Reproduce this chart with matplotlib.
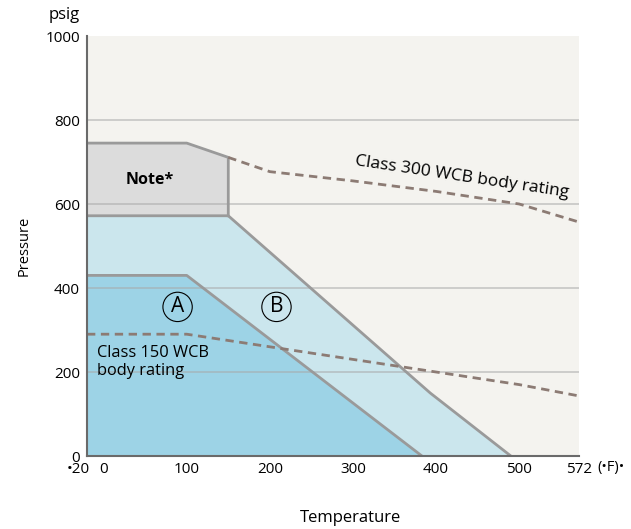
import numpy as np
import matplotlib.pyplot as plt
from matplotlib.transforms import ScaledTranslation

plt.rcParams['font.family'] = ['Open Sans', 'DejaVu Sans']

# region outlines (temperature degF, pressure psig)
a_temp = [-20, -20, 100, 383]
a_pres = [0, 430, 430, 0]
b_temp = [-20, -20, 150, 393, 490]
b_pres = [0, 572, 572, 150, 0]
note_temp = [-20, -20, 100, 150, 150]
note_pres = [572, 745, 745, 711, 572]

# body rating curves
c300_temp = [150, 200, 300, 400, 500, 572]
c300_pres = [711, 677, 655, 630, 600, 557]
c150_temp = [-20, 100, 200, 300, 400, 500, 572]
c150_pres = [290, 290, 260, 230, 200, 170, 143]

xticks = [-20, 0, 100, 200, 300, 400, 500, 572]
xtick_labels = ['\u202220', '0', '100', '200', '300', '400', '500', '572']
yticks = [0, 200, 400, 600, 800, 1000]

fig = plt.figure(figsize=(6.31, 5.29), dpi=100)
ax = fig.add_axes([87 / 631, 1 - 456 / 529, 492 / 631, 420 / 529])
ax.set_facecolor('#f4f3ef')
ax.set_xlim(-20, 572)
ax.set_ylim(0, 1000)

edge = '#9a9a9a'
ax.fill(b_temp, b_pres, facecolor='#cbe6ed', edgecolor='none', zorder=1)
ax.fill(a_temp, a_pres, facecolor='#9dd3e6', edgecolor='none', zorder=1)
ax.fill(note_temp, note_pres, facecolor='#dcdcdc', edgecolor='none', zorder=1)

for y in yticks[1:-1]:
    ax.axhline(y, color='#a8a8a8', lw=1.2, alpha=0.6, zorder=2)

ax.plot(b_temp[1:], b_pres[1:], color=edge, lw=2, zorder=3)
ax.plot(a_temp[1:], a_pres[1:], color=edge, lw=2, zorder=3)
ax.plot(note_temp[1:], note_pres[1:], color=edge, lw=2, zorder=3)

ax.plot(c300_temp, c300_pres, color='#8c7b74', lw=2, ls=(0, (3, 2)), zorder=4)
ax.plot(c150_temp, c150_pres, color='#8c7b74', lw=2, ls=(0, (3, 2)), zorder=4)

ax.text(55, 657, 'Note*', fontsize=11.5, fontweight='bold', ha='center', va='center', zorder=5)
ax.text(-8, 224, 'Class 150 WCB\nbody rating', fontsize=11.8, ha='left', va='center',
        linespacing=1.2, zorder=5)
ax.text(431, 663, 'Class 300 WCB body rating', fontsize=12.5, ha='center', va='center',
        rotation=-8.5, zorder=5)
for lbl, t in [('A', 89), ('B', 208)]:
    ax.text(t, 355, lbl, fontsize=15, ha='center', va='center', zorder=5,
            bbox=dict(boxstyle='circle,pad=0.2', fc='none', ec='black', lw=0.8))

ax.set_xticks(xticks)
ax.set_xticklabels(xtick_labels)
ax.set_yticks(yticks)
ax.tick_params(length=0, labelsize=11, pad=5)
ax.tick_params(axis='x', pad=4)
first = ax.get_xticklabels()[0]
first.set_ha('right')
first.set_transform(first.get_transform() + ScaledTranslation(3 / 100, 0, fig.dpi_scale_trans))

for s in ['top', 'right']:
    ax.spines[s].set_visible(False)
for s in ['left', 'bottom']:
    ax.spines[s].set_color('#6a6a6a')
    ax.spines[s].set_linewidth(1.5)
    ax.spines[s].set_zorder(6)

fig.text(597 / 631, 1 - 468 / 529, '(\u2022F)\u2022', fontsize=10.5, ha='left', va='center')
fig.text(80 / 631, 1 - 15 / 529, 'psig', fontsize=12, ha='right', va='center')
ax.set_ylabel('Pressure', fontsize=10.5, labelpad=10)
fig.text(350 / 631, 1 - 518 / 529, 'Temperature', fontsize=12, ha='center', va='center')

fig.savefig('out.png', dpi=100)
